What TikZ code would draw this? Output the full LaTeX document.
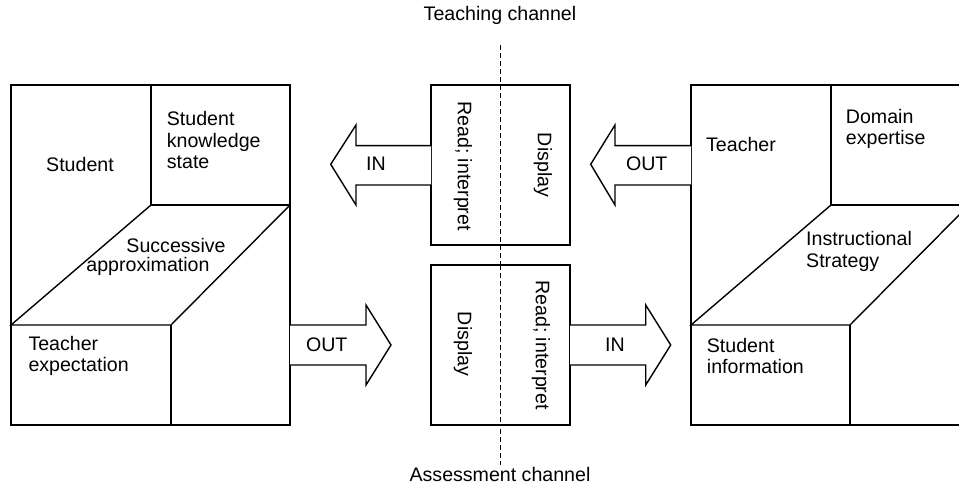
\documentclass[tikz,border=0pt]{standalone}
\usepackage{fontspec}
\setmainfont{Liberation Sans}
\begin{document}
\begin{tikzpicture}[x=1pt,y=-1pt,
  every node/.style={inner sep=0pt, font=\fontsize{19.6}{21.7}\selectfont},
  line/.style={line width=1.4pt},
  blockarrow/.style={line width=1.4pt, fill=white, line join=miter},
  lbl/.style={align=left, anchor=west},
  rot/.style={rotate=-90}]
\useasboundingbox (0,0) rectangle (959,486);
\clip (0,0) rectangle (959,486);
\fill[white] (0,0) rectangle (959,486);

% dashed channel divider
\coordinate (dtop) at (500,45);
\coordinate (dbot) at (500,465);
\draw[line width=1pt, dash pattern=on 5pt off 3pt] (dtop) -- (dbot);

% left box
\draw[line] (11,85) rectangle (290,425);
\draw[line] (151,85) -- (151,205) -- (290,205);
\draw[line] (151,205) -- (11,325) -- (171,325) -- (290,205);
\draw[line] (171,325) -- (171,425);

% right box
\draw[line] (691,85) rectangle (969,425);
\draw[line] (831,85) -- (831,205) -- (969,205);
\draw[line] (831,205) -- (691,325) -- (850,325) -- (969,205);
\draw[line] (850,325) -- (850,425);

% middle boxes
\draw[line, fill=white] (431,85) rectangle (570,245);
\draw[line, fill=white] (431,265) rectangle (570,425);
\draw[line width=1pt, dash pattern=on 5pt off 3pt] (500,85) -- (500,245);
\draw[line width=1pt, dash pattern=on 5pt off 3pt] (500,265) -- (500,425);

% block arrows
\draw[blockarrow] (431,145.7) -- (356,145.7) -- (356,125) -- (330.7,164.3) -- (356,205) -- (356,185) -- (431,185);
\draw[blockarrow] (691,145.7) -- (615,145.7) -- (615,125) -- (590.7,164.3) -- (615,205) -- (615,185) -- (691,185);
\draw[blockarrow] (290,325) -- (366,325) -- (366,305) -- (391,345) -- (366,385) -- (366,365) -- (290,365);
\draw[blockarrow] (570,325) -- (645.7,325) -- (645.7,305) -- (670.7,345) -- (645.7,385) -- (645.7,365) -- (570,365);

% arrow labels
\node (inL) at (376,164) {IN};
\node (outR) at (646.7,164) {OUT};
\node (outL) at (326.7,345) {OUT};
\node (inR) at (615,345) {IN};

% rotated labels
\node[rot] (readT) at (463,166) {Read; interpret};
\node[rot] (dispT) at (543,165) {Display};
\node[rot] (dispB) at (463,344) {Display};
\node[rot] (readB) at (541,345) {Read; interpret};

% left box texts
\node (student) at (80,164) {Student};
\node[lbl] (sks) at (166.7,140) {Student\\knowledge\\state};
\node (sa1) at (176,245) {Successive};
\node (sa2) at (148,266.7) {approximation};
\node[lbl] (te) at (28.3,356) {Teacher\\expectation};

% right box texts
\node (teacher) at (741,144) {Teacher};
\node[lbl] (de) at (845.7,129) {Domain\\expertise};
\node[lbl] (is) at (806,251.7) {Instructional\\Strategy};
\node[lbl] (si) at (706.7,356) {Student\\information};

% channel labels
\node (tc) at (500,15) {Teaching channel};
\node (ac) at (500,474) {Assessment channel};
\end{tikzpicture}
\end{document}
